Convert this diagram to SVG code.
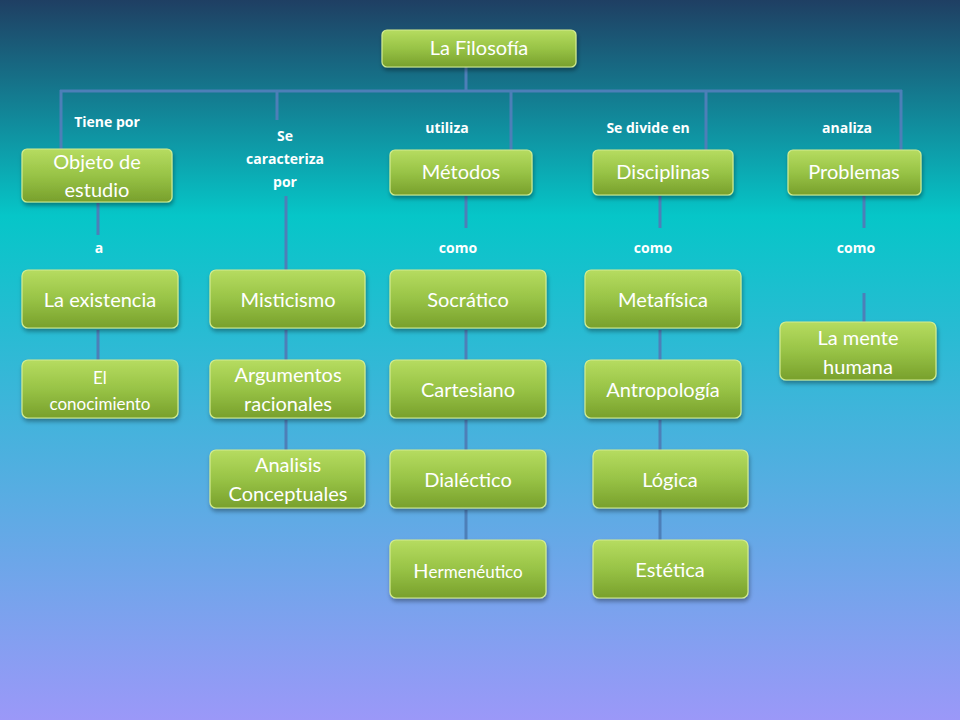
<svg xmlns="http://www.w3.org/2000/svg" width="960" height="720" viewBox="0 0 960 720">
<defs>
<linearGradient id="bg" x1="0" y1="0" x2="0" y2="1">
<stop offset="0" stop-color="#1f3f63"/>
<stop offset="0.3" stop-color="#06c6c8"/>
<stop offset="1" stop-color="#9b98f8"/>
</linearGradient>
<linearGradient id="ng" x1="0" y1="0" x2="0" y2="1">
<stop offset="0" stop-color="#b6dc60"/>
<stop offset="0.5" stop-color="#98c346"/>
<stop offset="1" stop-color="#78a02c"/>
</linearGradient>
<filter id="sh" x="-10%" y="-10%" width="130%" height="140%">
<feDropShadow dx="1" dy="3" stdDeviation="2" flood-color="#000" flood-opacity="0.35"/>
</filter>
<style>
.n rect{fill:url(#ng);stroke:#d4ec90;stroke-width:1.2;filter:url(#sh)}
.n text{fill:#fff;font-family:Lato,"Open Sans",sans-serif;font-size:20px;text-anchor:middle}
.c line{stroke:#4d7fb8;stroke-width:3}
.l{fill:#fff;font-family:"Open Sans","Liberation Sans",sans-serif;font-size:14px;font-weight:bold;text-anchor:middle}
</style>
</defs>
<rect width="960" height="720" fill="url(#bg)"/>
<g class="c">
<line x1="466" y1="67" x2="466" y2="91"/>
<line x1="60" y1="91" x2="902" y2="91"/>
<line x1="61" y1="90" x2="61" y2="150"/>
<line x1="277" y1="90" x2="277" y2="120"/>
<line x1="511" y1="90" x2="511" y2="150"/>
<line x1="706" y1="90" x2="706" y2="150"/>
<line x1="901" y1="90" x2="901" y2="150"/>
<line x1="98" y1="203" x2="98" y2="235"/>
<line x1="286" y1="196" x2="286" y2="270"/>
<line x1="466" y1="196" x2="466" y2="228"/>
<line x1="660" y1="196" x2="660" y2="228"/>
<line x1="864" y1="196" x2="864" y2="228"/>
<line x1="864" y1="293" x2="864" y2="322"/>
<line x1="98" y1="330" x2="98" y2="360"/>
<line x1="286" y1="330" x2="286" y2="360"/>
<line x1="286" y1="420" x2="286" y2="450"/>
<line x1="466" y1="330" x2="466" y2="360"/>
<line x1="466" y1="420" x2="466" y2="450"/>
<line x1="466" y1="510" x2="466" y2="540"/>
<line x1="660" y1="330" x2="660" y2="360"/>
<line x1="660" y1="420" x2="660" y2="450"/>
<line x1="660" y1="510" x2="660" y2="540"/>
</g>
<g id="labels">
<text class="l" x="107" y="127">Tiene por</text>
<text class="l" x="285" y="141">Se</text>
<text class="l" x="285" y="164">caracteriza</text>
<text class="l" x="285" y="187">por</text>
<text class="l" x="447" y="133">utiliza</text>
<text class="l" x="648" y="133">Se divide en</text>
<text class="l" x="847" y="133">analiza</text>
<text class="l" x="99" y="253">a</text>
<text class="l" x="458" y="253">como</text>
<text class="l" x="653" y="253">como</text>
<text class="l" x="856" y="253">como</text>
</g>
<g id="filosofia" class="n"><rect x="382" y="30" width="194" height="37" rx="5"/><text x="479" y="55">La Filosofía</text></g>
<g id="objeto" class="n"><rect x="22" y="149" width="150" height="53" rx="5"/><text x="97" y="169">Objeto de</text><text x="97" y="197">estudio</text></g>
<g id="metodos" class="n"><rect x="390" y="150" width="142" height="45" rx="5"/><text x="461" y="179">Métodos</text></g>
<g id="disciplinas" class="n"><rect x="593" y="150" width="140" height="45" rx="5"/><text x="663" y="179">Disciplinas</text></g>
<g id="problemas" class="n"><rect x="788" y="150" width="133" height="45" rx="5"/><text x="854" y="179">Problemas</text></g>
<g id="existencia" class="n"><rect x="22" y="270" width="156" height="58" rx="6"/><text x="100" y="307">La existencia</text></g>
<g id="conocimiento" class="n"><rect x="22" y="360" width="156" height="58" rx="6"/><text x="100" y="384" style="font-size:17px">El</text><text x="100" y="410" style="font-size:17px">conocimiento</text></g>
<g id="misticismo" class="n"><rect x="210" y="270" width="155" height="58" rx="6"/><text x="288" y="307">Misticismo</text></g>
<g id="argumentos" class="n"><rect x="210" y="360" width="155" height="58" rx="6"/><text x="288" y="382">Argumentos</text><text x="288" y="411">racionales</text></g>
<g id="analisis" class="n"><rect x="210" y="450" width="155" height="58" rx="6"/><text x="288" y="472">Analisis</text><text x="288" y="501">Conceptuales</text></g>
<g id="socratico" class="n"><rect x="390" y="270" width="156" height="58" rx="6"/><text x="468" y="307">Socrático</text></g>
<g id="cartesiano" class="n"><rect x="390" y="360" width="156" height="58" rx="6"/><text x="468" y="397">Cartesiano</text></g>
<g id="dialectico" class="n"><rect x="390" y="450" width="156" height="58" rx="6"/><text x="468" y="487">Dialéctico</text></g>
<g id="hermeneutico" class="n"><rect x="390" y="540" width="156" height="58" rx="6"/><text x="468" y="578"><tspan>H</tspan><tspan style="font-size:17px">ermenéutico</tspan></text></g>
<g id="metafisica" class="n"><rect x="585" y="270" width="156" height="58" rx="6"/><text x="663" y="307">Metafísica</text></g>
<g id="antropologia" class="n"><rect x="585" y="360" width="156" height="58" rx="6"/><text x="663" y="397">Antropología</text></g>
<g id="logica" class="n"><rect x="593" y="450" width="155" height="58" rx="6"/><text x="670" y="487">Lógica</text></g>
<g id="estetica" class="n"><rect x="593" y="540" width="155" height="58" rx="6"/><text x="670" y="577">Estética</text></g>
<g id="mente" class="n"><rect x="780" y="322" width="156" height="58" rx="6"/><text x="858" y="345">La mente</text><text x="858" y="374">humana</text></g>
</svg>
